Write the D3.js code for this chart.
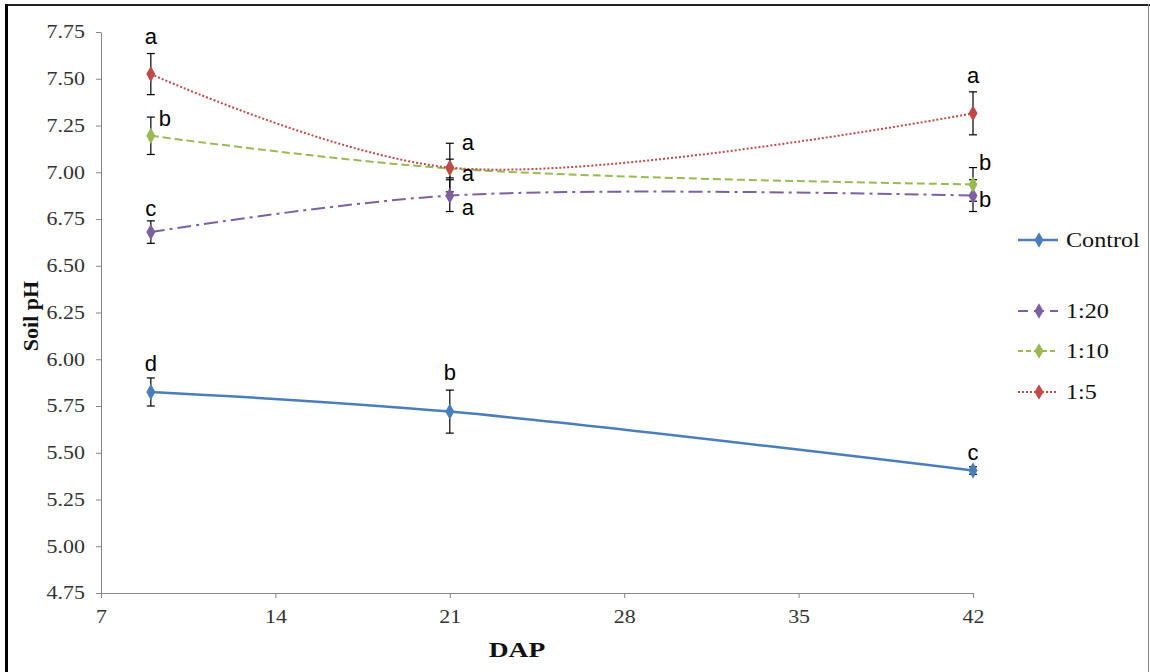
<!DOCTYPE html>
<html>
<head>
<meta charset="utf-8">
<script src="https://cdn.jsdelivr.net/npm/d3@7"></script>
<style>
html,body{margin:0;padding:0;background:#fff;}
svg{display:block;}
</style>
</head>
<body>
<svg id="chart" width="1150" height="672"></svg>
<script>
// ---- data ----
const dap = [9, 21, 42];
const seriesNames = ["Control", "1:20", "1:10", "1:5"];
const controlValues = [5.825, 5.72, 5.405];
const controlErr = [0.075, 0.115, 0.02];
const controlLetters = ["d", "b", "c"];
const r20Values = [6.68, 6.875, 6.875];
const r20Err = [0.06, 0.085, 0.085];
const r20Letters = ["c", "a", "b"];
const r10Values = [7.195, 7.02, 6.935];
const r10Err = [0.1, 0.05, 0.09];
const r10Letters = ["b", "a", "b"];
const r5Values = [7.525, 7.025, 7.315];
const r5Err = [0.11, 0.13, 0.115];
const r5Letters = ["a", "a", "a"];
const xTicks = [7, 14, 21, 28, 35, 42];
const yTicks = [4.75, 5.00, 5.25, 5.50, 5.75, 6.00, 6.25, 6.50, 6.75, 7.00, 7.25, 7.50, 7.75];
const colors = ["#4a7ebb", "#7d60a0", "#98b954", "#be4b48"];
const dashes = [null, "14,5,3,5", "8,4", "2,2"];

const series = [
  {name: seriesNames[0], values: controlValues, err: controlErr, letters: controlLetters},
  {name: seriesNames[1], values: r20Values, err: r20Err, letters: r20Letters},
  {name: seriesNames[2], values: r10Values, err: r10Err, letters: r10Letters},
  {name: seriesNames[3], values: r5Values, err: r5Err, letters: r5Letters}
];

// letter offsets (dx, dy, anchor) per series per point
const letterPos = [
  [[0,-21,"middle"],[0,-32,"middle"],[0,-11,"middle"]],
  [[0,-16,"middle"],[12,19,"start"],[6,11,"start"]],
  [[8,-10,"start"],[12,12,"start"],[6,-14,"start"]],
  [[0,-30,"middle"],[12,-18,"start"],[0,-30,"middle"]]
];

const serif = "'Liberation Serif', 'Times New Roman', 'DejaVu Serif', serif";
const sans = "'Liberation Sans', Arial, sans-serif";

const svg = d3.select("#chart");
// frame
svg.append("line").attr("x1",6).attr("x2",1150).attr("y1",5).attr("y2",5).attr("stroke","#222").attr("stroke-width",2);
svg.append("line").attr("x1",6.5).attr("x2",6.5).attr("y1",4).attr("y2",672).attr("stroke","#000").attr("stroke-width",3);
svg.append("line").attr("x1",1148.5).attr("x2",1148.5).attr("y1",4).attr("y2",672).attr("stroke","#888").attr("stroke-width",1);

const x = d3.scaleLinear().domain([7, 42]).range([101, 973]);
const y = d3.scaleLinear().domain([4.75, 7.75]).range([593, 32]);

const yAxis = svg.append("g").attr("transform","translate(101,0)")
  .call(d3.axisLeft(y).tickValues(yTicks).tickFormat(d3.format(".2f")).tickSize(5).tickSizeOuter(0));
const xAxis = svg.append("g").attr("transform","translate(0,593)")
  .call(d3.axisBottom(x).tickValues(xTicks).tickFormat(d3.format("d")).tickSize(5).tickSizeOuter(0));
[yAxis, xAxis].forEach(g => {
  g.attr("font-family", null).attr("font-size", null);
  g.select(".domain").attr("stroke","#868686").attr("stroke-width",1);
  g.selectAll(".tick line").attr("stroke","#868686");
  g.selectAll(".tick text").style("font-family", serif).style("font-size", "18px").attr("fill","#333");
});
yAxis.selectAll(".tick text").attr("x", 0).attr("transform", "translate(-16,0) scale(1.22,1)");
xAxis.selectAll(".tick text").attr("y", 0).attr("transform", "translate(0,17) scale(1.22,1)");

// axis titles
svg.append("text").attr("text-anchor","middle").attr("transform","translate(517,657) scale(1.25,1)")
  .style("font-family", serif).style("font-weight","bold").style("font-size","22px").attr("fill","#111").text("DAP");
svg.append("text").attr("transform","translate(38,316) rotate(-90)").attr("text-anchor","middle")
  .style("font-family", serif).style("font-weight","bold").style("font-size","22px").attr("fill","#111").text("Soil pH");

const line = d3.line().x(d => x(d[0])).y(d => y(d[1])).curve(d3.curveCatmullRom.alpha(0.5));
const diamond = d3.symbol().type(d3.symbolDiamond).size(70);

series.forEach((s, i) => {
  const pts = dap.map((d, j) => [d, s.values[j]]);
  svg.append("path").datum(pts).attr("d", line).attr("fill","none")
    .attr("stroke", colors[i]).attr("stroke-width", i === 0 ? 2.5 : 2)
    .attr("stroke-dasharray", dashes[i]);
});
// error bars
series.forEach((s, i) => {
  const g = svg.append("g");
  dap.forEach((d, j) => {
    const cx = x(d), top = y(s.values[j] + s.err[j]), bot = y(s.values[j] - s.err[j]);
    g.append("line").attr("x1",cx).attr("x2",cx).attr("y1",top).attr("y2",bot).attr("stroke","#000").attr("stroke-width",1.2);
    g.append("line").attr("x1",cx-4).attr("x2",cx+4).attr("y1",top).attr("y2",top).attr("stroke","#000").attr("stroke-width",1.2);
    g.append("line").attr("x1",cx-4).attr("x2",cx+4).attr("y1",bot).attr("y2",bot).attr("stroke","#000").attr("stroke-width",1.2);
  });
});
// markers + letters
series.forEach((s, i) => {
  dap.forEach((d, j) => {
    svg.append("path").attr("d", diamond).attr("transform", `translate(${x(d)},${y(s.values[j])}) scale(1,1.05)`)
      .attr("fill", colors[i]);
    const p = letterPos[i][j];
    svg.append("text").attr("x", x(d) + p[0]).attr("y", y(s.values[j]) + p[1])
      .attr("text-anchor", p[2]).style("font-family", sans)
      .style("font-size", "22px").attr("fill","#000").text(s.letters[j]);
  });
});

// legend
const legY = [240, 311, 351, 392];
series.forEach((s, i) => {
  const g = svg.append("g").attr("transform", `translate(0,${legY[i]})`);
  g.append("line").attr("x1",1018).attr("x2",1058).attr("y1",0).attr("y2",0)
    .attr("stroke", colors[i]).attr("stroke-width", i === 0 ? 2.5 : 2).attr("stroke-dasharray", i===1 ? "10,6" : (i===2 ? "5,3" : dashes[i]));
  g.append("path").attr("d", diamond).attr("transform","translate(1039,0)").attr("fill", colors[i]);
  g.append("text").attr("transform","translate(1066,7) scale(1.15,1)").style("font-family", serif).style("font-size","21px").attr("fill","#111").text(s.name);
});
</script>
</body>
</html>
